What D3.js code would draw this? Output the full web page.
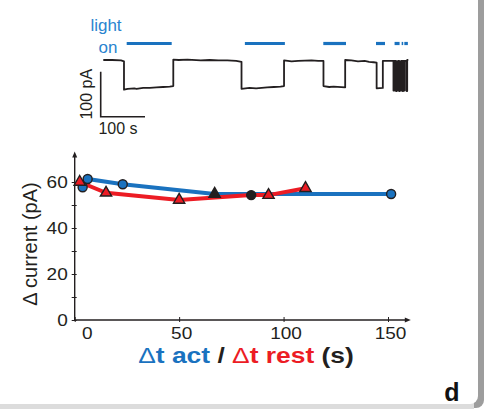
<!DOCTYPE html>
<html><head><meta charset="utf-8">
<script src="https://cdn.jsdelivr.net/npm/d3@7"></script>
<style>body{margin:0;background:#fff;overflow:hidden}svg{display:block}text{font-family:"Liberation Sans",Arial,sans-serif}</style>
</head><body><svg id="c" width="485" height="410"></svg>
<script>
// ---- main chart data ----
const actT = [3.8, 6.2, 23, 67, 151.5];
const actV = [57.7, 61.3, 59, 54.8, 54.8];
const actMarker = ["circle", "circle", "circle", "triangleDark", "circle"];
const restT = [2.4, 15, 50, 84.5, 92.8, 110.5];
const restV = [60, 55.3, 52.2, 54.3, 54.3, 57.3];
const restMarker = ["triangle", "triangle", "triangle", "circleDark", "triangle", "triangle"];
const xTicks = [0, 50, 100, 150];
const yTicks = [0, 10, 20, 30, 40, 50, 60];
const yTickLabels = ["0", "", "20", "", "40", "", "60"];
// ---- inset trace data (time in s, current in pA) ----
const traceT = [0, 20, 40, 46.7, 46.7, 55, 70, 75, 90, 105, 120, 135, 150, 158,
  158, 170, 190, 220, 240, 260, 280, 300, 312,
  312, 330, 345, 370, 385, 400, 408, 408, 425, 440, 470, 485, 497, 497, 510, 520, 546,
  546, 560, 575, 590, 600, 610, 617,
  617, 631, 631, 655, 655, 657, 657, 660.7, 660.7, 662, 662, 664.5, 664.5, 665.5, 665.5,
  668, 668, 669, 669, 671.3, 671.3, 672.5, 672.5, 675.8, 675.8, 677, 677, 679.4, 679.4,
  680.5, 680.5, 684.9, 684.9, 686, 686, 688.5];
const traceI = [0, 0, -1, -3, -66, -64, -63, -64, -62, -62, -61, -60, -59, -58,
  1, 0, 1, -1, 0, -1, -1, -2, -4,
  -64, -62, -63, -61, -60, -59, -58, -1, -3, -2, -1, -2, -2, -58, -60, -59, -61,
  0, -1, -3, -2, -4, -5, -6,
  -63, -62, -2, -2, -68, -68, -2, -2, -69, -69, -3, -3, -68, -68, -2,
  -2, -69, -69, -3, -3, -68, -68, -2, -2, -69, -69, -2, -2, -68, -68,
  -2, -2, -69, -69, 0, 0, 1];
const lightOnStart = [52.8, 319.6, 496.6, 615.6, 657.5, 673.5, 679.5];
const lightOnEnd = [154.4, 409.9, 547.9, 635.9, 668.8, 677, 687.5];

const svg = d3.select("#c");
const BLUE = "#1a72bf", RED = "#ec1c24", INK = "#231f20";

// ---- panel background with shadow ----
svg.append("rect").attr("x", -20).attr("y", -10).attr("width", 504).attr("height", 418).attr("rx", 8).attr("fill", "#9d9d9d");
svg.append("rect").attr("x", -20).attr("y", 403).attr("width", 494).attr("height", 6).attr("fill", "#dcdcdc");
svg.append("rect").attr("x", -20).attr("y", -10).attr("width", 498).attr("height", 414).attr("rx", 8).attr("fill", "#fff");

// ---- inset ----
const tx = d3.scaleLinear().domain([0, 100]).range([103.3, 147.6]);
const ty = d3.scaleLinear().domain([0, -100]).range([60, 105]);
const ins = svg.append("g");
ins.selectAll("line.light").data(lightOnStart).join("line").attr("class", "light")
  .attr("x1", d => tx(d)).attr("x2", (d, i) => tx(lightOnEnd[i]))
  .attr("y1", 43.5).attr("y2", 43.5).attr("stroke", BLUE).attr("stroke-width", 3.2);
ins.append("text").attr("x", 106).attr("y", 31).attr("text-anchor", "middle")
  .attr("font-size", 17).attr("fill", "#2a84cf").text("light");
ins.append("text").attr("x", 108).attr("y", 53).attr("text-anchor", "middle")
  .attr("font-size", 17).attr("fill", "#2a84cf").text("on");
const tracePts = traceT.map((t, i) => [t, traceI[i]]);
ins.append("path").datum(tracePts)
  .attr("d", d3.line().x(d => tx(d[0])).y(d => ty(d[1])))
  .attr("fill", "none").attr("stroke", INK).attr("stroke-width", 1.8).attr("stroke-linejoin", "round");
// scale bar: 100 pA, 100 s
const sbX = 100.7, sbY = 116.7;
ins.append("path")
  .attr("d", `M${sbX},${sbY - (ty(-100) - ty(0))}V${sbY}H${sbX + (tx(100) - tx(0))}`)
  .attr("fill", "none").attr("stroke", INK).attr("stroke-width", 1.6);
ins.append("text").attr("transform", `translate(92,${sbY - 22.5}) rotate(-90)`)
  .attr("text-anchor", "middle").attr("font-size", 16).attr("fill", INK).text("100 pA");
ins.append("text").attr("x", 118).attr("y", 134).attr("text-anchor", "middle")
  .attr("font-size", 16).attr("fill", INK).text("100 s");

// ---- main chart ----
const x = d3.scaleLinear().domain([0, 150]).range([74.7, 388]);
const y = d3.scaleLinear().domain([0, 60]).range([320, 182]);
const SX = 1.12;

// x axis
const gx = svg.append("g").attr("transform", `translate(0,${y(0)})`)
  .call(d3.axisBottom(x).tickValues(xTicks).tickSizeOuter(0).tickSizeInner(3));
gx.select(".domain").remove();
gx.selectAll(".tick line").attr("y1", -3).attr("y2", 2).attr("stroke", INK);
gx.selectAll(".tick text").attr("y", 19.5).attr("dy", 0).attr("font-size", 17)
  .attr("font-family", '"Liberation Sans",Arial,sans-serif').attr("fill", INK)
  .attr("transform", `scale(${SX},1)`)
  .attr("x", d => d === 0 ? 12 / SX : 2 / SX);
svg.append("path").attr("d", `M${x(0)},${y(0)}H${x(159)}`).attr("stroke", INK).attr("stroke-width", 1.4);
svg.append("path").attr("d", `M${x(159) + 4},${y(0)}l-6,-2.5v5z`).attr("fill", INK);

// y axis
const gy = svg.append("g").attr("transform", `translate(${x(0)},0)`)
  .call(d3.axisLeft(y).tickValues(yTicks).tickSizeOuter(0).tickFormat((d, i) => yTickLabels[i]));
gy.select(".domain").remove();
gy.selectAll(".tick line").attr("x1", -3).attr("x2", 2).attr("stroke", INK);
gy.selectAll(".tick text").attr("x", -7 / SX).attr("font-size", 17)
  .attr("font-family", '"Liberation Sans",Arial,sans-serif').attr("fill", INK)
  .attr("transform", `scale(${SX},1)`);
svg.append("path").attr("d", `M${x(0)},${y(0)}V${y(71.5)}`).attr("stroke", INK).attr("stroke-width", 1.4);
svg.append("path").attr("d", `M${x(0)},${y(71.5) - 4}l-2.5,6h5z`).attr("fill", INK);

svg.append("text").attr("transform", "translate(37,244) rotate(-90)")
  .attr("text-anchor", "middle").attr("font-size", 20).attr("fill", INK).text("Δ current (pA)");

// lines
const line = d3.line().x(d => x(d[0])).y(d => y(d[1]));
const actPts = actT.map((t, i) => [t, actV[i]]);
const restPts = restT.map((t, i) => [t, restV[i]]);
svg.append("path").datum(actPts).attr("d", line).attr("fill", "none").attr("stroke", BLUE).attr("stroke-width", 4);
svg.append("path").datum(restPts).attr("d", line).attr("fill", "none").attr("stroke", RED).attr("stroke-width", 4);

function drawMarkers(pts, kinds) {
  pts.forEach((p, i) => {
    const k = kinds[i];
    const isTri = k.startsWith("triangle");
    const fill = k === "triangle" ? RED : k === "circle" ? BLUE : INK;
    svg.append("path")
      .attr("d", d3.symbol().type(isTri ? d3.symbolTriangle : d3.symbolCircle).size(isTri ? 55 : 64)())
      .attr("transform", `translate(${x(p[0])},${y(p[1])})`)
      .attr("fill", fill).attr("stroke", INK).attr("stroke-width", 1.4);
  });
}
drawMarkers(actPts, actMarker);
drawMarkers(restPts, restMarker);

// x label
const xl = svg.append("g").attr("transform", `translate(246,363) scale(1.2,1)`)
  .append("text").attr("text-anchor", "middle").attr("font-size", 22).attr("font-weight", "bold");
xl.append("tspan").attr("fill", BLUE).attr("font-weight", "normal").text("Δ");
xl.append("tspan").attr("fill", BLUE).text("t act");
xl.append("tspan").attr("fill", INK).text(" / ");
xl.append("tspan").attr("fill", RED).attr("font-weight", "normal").text("Δ");
xl.append("tspan").attr("fill", RED).text("t rest");
xl.append("tspan").attr("fill", INK).text(" (s)");

svg.append("text").attr("x", 452).attr("y", 401).attr("text-anchor", "middle")
  .attr("font-size", 25).attr("font-weight", "bold").attr("fill", "#111").text("d");
</script></body></html>
